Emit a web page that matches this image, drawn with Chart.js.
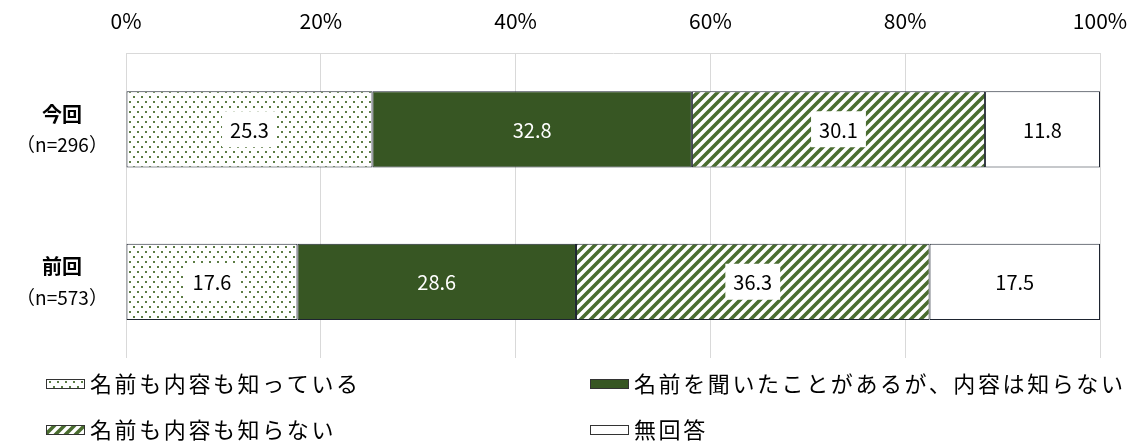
<!DOCTYPE html>
<html>
<head>
<meta charset="utf-8">
<script src="https://cdn.jsdelivr.net/npm/chart.js@4/dist/chart.umd.min.js"></script>
<style>
  html, body { margin: 0; padding: 0; background: #fff; }
  #wrap { width: 1132px; height: 441px; }
</style>
</head>
<body>
<div id="wrap"><canvas id="chart" width="1132" height="441"></canvas></div>
<script>
const categories = ["今回", "前回"];
const sampleSizes = ["（n=296）", "（n=573）"];
const seriesNames = ["名前も内容も知っている", "名前を聞いたことがあるが、内容は知らない", "名前も内容も知らない", "無回答"];
const knowBoth = [25.3, 17.6];
const heardOnly = [32.8, 28.6];
const knowNeither = [30.1, 36.3];
const noAnswer = [11.8, 17.5];
const tickLabels = ["0%", "20%", "40%", "60%", "80%", "100%"];

const GREEN = "#375623";
const FONT = "'Noto Sans CJK JP', 'Noto Sans', sans-serif";

function makeDots() {
  const c = document.createElement("canvas");
  c.width = 8; c.height = 10;
  const g = c.getContext("2d");
  g.fillStyle = "#fff";
  g.fillRect(0, 0, 8, 10);
  g.fillStyle = "#5c7d45";
  g.fillRect(1, 1, 2, 2);
  g.fillRect(5, 6, 2, 2);
  return g.createPattern(c, "repeat");
}

function makeHatch() {
  const s = 10;
  const c = document.createElement("canvas");
  c.width = s; c.height = s;
  const g = c.getContext("2d");
  g.fillStyle = "#fff";
  g.fillRect(0, 0, s, s);
  g.strokeStyle = "#4a6d30";
  g.lineWidth = 3.6;
  g.beginPath();
  g.moveTo(-2, s + 2); g.lineTo(s + 2, -2);
  g.moveTo(-s - 2, s + 2); g.lineTo(2, -2);
  g.moveTo(-2, 2 * s + 2); g.lineTo(2 * s + 2, -2);
  g.stroke();
  return g.createPattern(c, "repeat");
}

const fills = [makeDots(), GREEN, makeHatch(), "#fff"];
const labelColors = ["#000", "#fff", "#000", "#000"];
const labelBoxes = [true, false, true, false];

const dataLabels = {
  id: "dataLabels",
  afterDatasetsDraw(chart) {
    const ctx = chart.ctx;
    ctx.save();
    ctx.font = "20px " + FONT;
    ctx.textAlign = "center";
    ctx.textBaseline = "middle";
    chart.data.datasets.forEach((ds, i) => {
      const meta = chart.getDatasetMeta(i);
      meta.data.forEach((bar, j) => {
        const cx = (bar.x + bar.base) / 2;
        const cy = bar.y;
        const text = ds.data[j].toFixed(1);
        if (labelBoxes[i]) {
          const w = ctx.measureText(text).width + 16;
          ctx.fillStyle = "#fff";
          ctx.fillRect(cx - w / 2, cy - 18, w, 36);
        }
        ctx.fillStyle = labelColors[i];
        ctx.fillText(text, cx, cy + 1);
      });
    });
    ctx.restore();
  }
};

const categoryLabels = {
  id: "categoryLabels",
  afterDraw(chart) {
    const ctx = chart.ctx;
    const y = chart.scales.y;
    ctx.save();
    ctx.textAlign = "center";
    ctx.textBaseline = "middle";
    ctx.fillStyle = "#000";
    categories.forEach((name, i) => {
      const cy = y.getPixelForValue(i);
      ctx.font = "bold 20px " + FONT;
      ctx.fillText(name, 62, cy - 15);
      ctx.font = "19px " + FONT;
      ctx.fillText(sampleSizes[i], 62, cy + 16);
    });
    ctx.restore();
  }
};

const bottomLegend = {
  id: "bottomLegend",
  afterDraw(chart) {
    const ctx = chart.ctx;
    const spots = [[46, 384], [590, 384], [46, 430], [590, 430]];
    ctx.save();
    ctx.font = "22px " + FONT;
    ctx.textBaseline = "middle";
    ctx.textAlign = "left";
    if ("letterSpacing" in ctx) ctx.letterSpacing = "2.6px";
    seriesNames.forEach((name, i) => {
      const [x, y] = spots[i];
      ctx.fillStyle = fills[i];
      ctx.fillRect(x, y - 5, 39, 10);
      ctx.strokeStyle = "#333";
      ctx.lineWidth = 1;
      ctx.strokeRect(x + 0.5, y - 4.5, 38, 9);
      ctx.fillStyle = "#000";
      ctx.fillText(name, x + 44, y);
    });
    ctx.restore();
  }
};

new Chart(document.getElementById("chart"), {
  type: "bar",
  data: {
    labels: categories,
    datasets: [knowBoth, heardOnly, knowNeither, noAnswer].map((vals, i) => ({
      label: seriesNames[i],
      data: vals,
      backgroundColor: fills[i],
      borderColor: "#1e2430",
      borderWidth: 1,
      borderSkipped: false,
      categoryPercentage: 1,
      barPercentage: 0.5
    }))
  },
  options: {
    indexAxis: "y",
    responsive: false,
    animation: false,
    layout: { padding: { left: 0, right: 32, top: 0, bottom: 83 } },
    plugins: {
      legend: { display: false },
      tooltip: { enabled: false }
    },
    scales: {
      x: {
        position: "top",
        stacked: true,
        min: 0,
        max: 100,
        ticks: {
          stepSize: 20,
          padding: 19,
          maxRotation: 0,
          color: "#000",
          font: { size: 21, family: FONT },
          callback: (v) => tickLabels[v / 20]
        },
        grid: { color: "#d9d9d9", drawTicks: false },
        border: { display: true, color: "#d9d9d9" },
        afterFit(scale) {
          scale.height = 53;
          scale.paddingLeft = 0;
          scale.paddingRight = 0;
        }
      },
      y: {
        stacked: true,
        ticks: { display: false },
        grid: { display: false },
        border: { display: false },
        afterFit(scale) { scale.width = 126; }
      }
    }
  },
  plugins: [dataLabels, categoryLabels, bottomLegend]
});
</script>
</body>
</html>
